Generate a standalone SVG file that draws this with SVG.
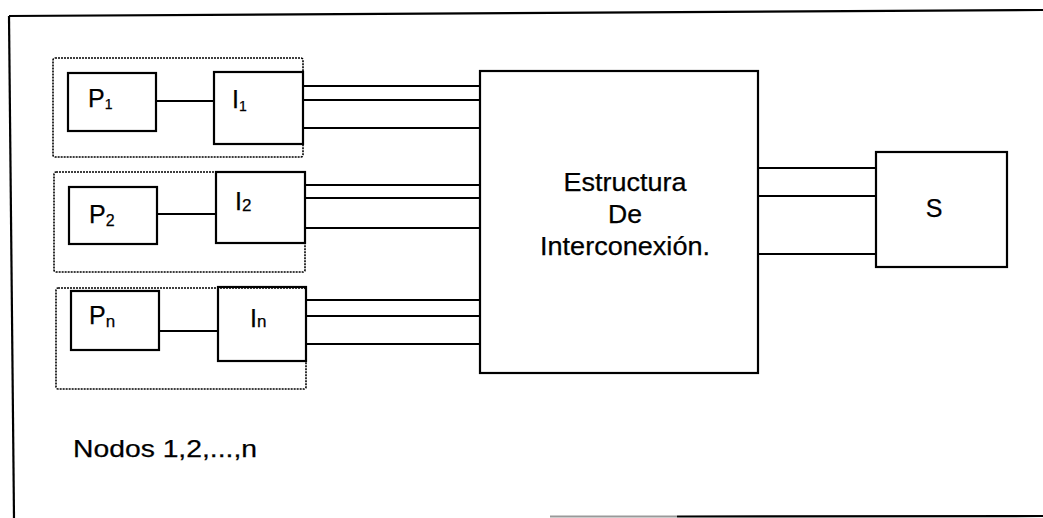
<svg xmlns="http://www.w3.org/2000/svg" width="1043" height="518" viewBox="0 0 1043 518">
<style>
.box{fill:none;stroke:#000;stroke-width:2.2}
.grp{fill:none;stroke:#000;stroke-width:1.6;stroke-dasharray:2 1}
.ln{stroke:#000;stroke-width:2.2;fill:none}
.t{font-family:"Liberation Sans",Arial,sans-serif;fill:#000;stroke:#000;stroke-width:0.25}
</style>
<rect width="1043" height="518" fill="#fff"/>
<g id="frame">
<path class="ln" d="M9,16 L1043,10"/>
<path class="ln" d="M9,16 L14,518"/>
<path d="M550,516.5 L677,516.5" stroke="#999" stroke-width="2"/>
<path class="ln" d="M677,516.5 L1043,516"/>
</g>
<g id="grupo1"><rect class="grp" x="53" y="58" width="250" height="99" rx="2"/></g>
<g id="grupo2"><rect class="grp" x="54" y="172" width="251" height="100" rx="2"/></g>
<g id="grupon"><rect class="grp" x="56" y="288" width="250" height="101" rx="2"/></g>
<g id="connectors">
<path class="ln" d="M156,101H214M157,214H216M159,331H218"/>
<path class="ln" d="M303,86H480M303,100H480M303,128H480"/>
<path class="ln" d="M305,185H480M305,198H480M305,228H480"/>
<path class="ln" d="M306,300H481M306,316H481M306,344H481"/>
<path class="ln" d="M758,168H876M758,196H876M758,254H876"/>
</g>
<g id="P1"><rect class="box" x="68" y="73" width="88" height="58"/><text class="t" x="88" y="107" font-size="25">P<tspan font-size="14" dy="2">1</tspan></text></g>
<g id="I1"><rect class="box" x="214" y="72" width="89" height="72"/><text class="t" x="232" y="108" font-size="25">I<tspan font-size="14" dy="3">1</tspan></text></g>
<g id="P2"><rect class="box" x="69" y="187" width="88" height="57"/><text class="t" x="89" y="223" font-size="25">P<tspan font-size="16" dy="3">2</tspan></text></g>
<g id="I2"><rect class="box" x="216" y="172" width="89" height="71"/><text class="t" x="235" y="210" font-size="25">I<tspan font-size="17" dy="1">2</tspan></text></g>
<g id="Pn"><rect class="box" x="71" y="291" width="88" height="59"/><text class="t" x="89" y="324" font-size="25">P<tspan font-size="17" dy="3">n</tspan></text></g>
<g id="In"><rect class="box" x="218" y="287" width="88" height="74"/><text class="t" x="250" y="327" font-size="25">I<tspan font-size="17" dy="0">n</tspan></text></g>
<g id="estructura"><rect class="box" x="480" y="71" width="278" height="302"/>
<text class="t" x="625" y="191" font-size="25" text-anchor="middle" textLength="123" lengthAdjust="spacingAndGlyphs">Estructura</text>
<text class="t" x="625" y="223" font-size="25" text-anchor="middle" textLength="34" lengthAdjust="spacingAndGlyphs">De</text>
<text class="t" x="625" y="255" font-size="25" text-anchor="middle" textLength="170" lengthAdjust="spacingAndGlyphs">Interconexión.</text></g>
<g id="S"><rect class="box" x="876" y="152" width="131" height="115"/><text class="t" x="934" y="217" font-size="25" text-anchor="middle">S</text></g>
<g id="nodos"><text class="t" x="73" y="457" font-size="24" textLength="184" lengthAdjust="spacingAndGlyphs">Nodos 1,2,...,n</text></g>
</svg>
